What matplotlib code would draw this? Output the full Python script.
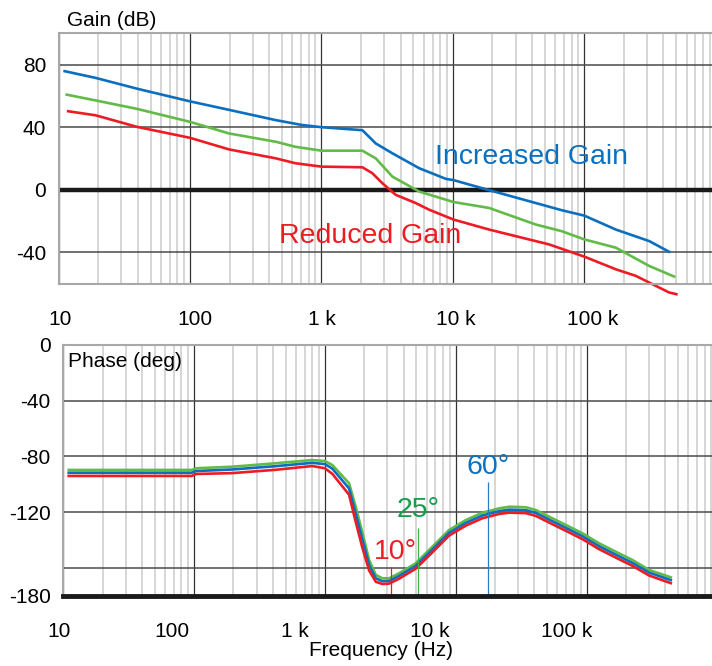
import numpy as np
import matplotlib
matplotlib.use('Agg')
import matplotlib.pyplot as plt
from matplotlib.ticker import FixedLocator, LogLocator, NullFormatter
from matplotlib.transforms import ScaledTranslation

plt.rcParams['font.family'] = ['Liberation Sans', 'DejaVu Sans']
plt.rcParams['axes.unicode_minus'] = False

# ---- gain curves (Hz, dB) ----
inc_freq = [11.1, 19.1, 39.5, 100, 200, 450, 700, 1000, 2047, 2588, 3467, 5535,
            8830, 10090, 18840, 67700, 100000, 173800, 312600, 441600]
inc_gain = [75.8, 71.5, 64.6, 56.5, 51.0, 44.5, 41.5, 40.0, 38.1, 29.6, 23.3, 13.8,
            7.0, 6.2, -0.2, -13.1, -16.5, -25.4, -32.8, -39.6]

mid_freq = [11.5, 19.1, 39.5, 100, 198, 449, 631, 1000, 2047, 2588, 3467, 5535,
            8830, 10090, 18840, 42760, 67700, 100000, 173800, 312600, 482000]
mid_gain = [60.8, 57.1, 51.7, 43.4, 36.0, 30.7, 27.5, 25.0, 25.0, 20.1, 8.4, -1.1,
            -6.3, -7.8, -11.6, -22.2, -26.5, -31.7, -37.0, -48.7, -55.4]

red_freq = [11.8, 19.1, 39.5, 100, 198, 449, 631, 1000, 2047, 2438, 2905, 3670,
            5220, 6590, 10090, 18840, 53950, 100000, 173800, 246600, 441600, 502000]
red_gain = [50.2, 47.6, 40.2, 33.2, 25.8, 20.1, 17.0, 14.8, 14.4, 10.6, 4.2, -3.2,
            -8.5, -12.7, -19.0, -25.4, -34.9, -42.7, -50.8, -55.0, -65.6, -66.7]

# ---- phase curves (Hz, deg) ----
ph_freq = [11, 96, 104, 195, 420, 800, 1000, 1140, 1530, 1720, 1940, 2180, 2450,
           2750, 3100, 3690, 4950, 6640, 8910, 11950, 16000, 21500, 25600, 34300,
           41000, 51800, 69500, 93100, 125000, 167000, 225000, 301000, 441000]
ph_mid = [-89.7, -89.7, -88.5, -87.4, -84.9, -82.6, -83.3, -86.2, -99.3, -116.1,
          -135.2, -154.4, -165.1, -167.5, -167.5, -163.9, -156.7, -144.8, -132.8,
          -125.7, -120.4, -117.3, -116.1, -116.5, -118.5, -123.3, -129.2, -135.2,
          -142.4, -148.4, -154.4, -161.5, -166.8]
ph_inc = [-91.7, -91.7, -90.5, -89.4, -87.0, -84.6, -85.5, -88.8, -103.0, -121.0,
          -140.0, -158.0, -167.5, -169.6, -169.4, -165.8, -158.6, -146.8, -134.8,
          -127.7, -122.4, -119.3, -118.2, -118.6, -120.6, -125.4, -131.3, -137.3,
          -144.5, -150.5, -156.5, -163.4, -168.8]
ph_red = [-94.0, -94.0, -92.6, -92.0, -89.6, -86.9, -88.5, -92.5, -107.5, -127.0,
          -146.0, -162.0, -170.0, -171.6, -171.3, -167.8, -160.6, -148.8, -136.8,
          -129.7, -124.4, -121.3, -120.4, -120.7, -122.7, -127.5, -133.4, -139.4,
          -146.6, -152.6, -158.6, -165.5, -171.0]

# phase margin markers
pm_labels = ['10°', '25°', '60°']
pm_freq = [3206, 5190, 17780]
pm_top = [-159.4, -131.2, -98.2]
pm_text_x = [3450, 5190, 17780]
pm_text_y = [-148.4, -118.5, -87.4]

decades = [10, 100, 1000, 10000, 100000]
decade_labels = ['10', '100', '1 k', '10 k', '100 k']
gain_ticks = [80, 40, 0, -40]
phase_ticks = [0, -40, -80, -120, -160, -180]
phase_ticklabels = ['0', '-40', '-80', '-120', '', '-180']

BLUE = '#0b6fc0'
GREEN = '#62bb47'
RED = '#ed1c24'

W, H = 712, 666
fig = plt.figure(figsize=(W / 100, H / 100), dpi=100)
ax1 = fig.add_axes([58.7 / W, 1 - 283.7 / H, 657 / W, 250.4 / H])
ax2 = fig.add_axes([63.3 / W, 1 - 595.7 / H, 654 / W, 250.7 / H])


def style(ax):
    ax.set_xscale('log')
    ax.set_xlim(10, 1e6)
    ax.xaxis.set_major_locator(FixedLocator(decades))
    ax.set_xticklabels(decade_labels)
    ax.xaxis.set_minor_locator(LogLocator(base=10, subs=np.arange(2, 10), numticks=50))
    ax.xaxis.set_minor_formatter(NullFormatter())
    ax.grid(which='minor', axis='x', color='#d6d6d6', lw=1.4)
    ax.grid(which='major', axis='x', color='#333333', lw=0.9)
    ax.grid(which='major', axis='y', color='#4a4a4a', lw=1.1)
    ax.set_axisbelow(True)
    ax.tick_params(which='both', length=0, labelsize=15)
    ax.tick_params(axis='x', pad=19)
    ax.tick_params(axis='y', pad=9)
    ax.spines['right'].set_visible(False)
    for s in ['left', 'top', 'bottom']:
        ax.spines[s].set_color('#a8a8a8')
        ax.spines[s].set_linewidth(1.5)


def shift_labels(ax, offsets_px):
    for lab, dx in zip(ax.get_xticklabels(), offsets_px):
        lab.set_transform(lab.get_transform()
                          + ScaledTranslation(dx / 100, 0, fig.dpi_scale_trans))


# ---- gain panel ----
style(ax1)
ax1.set_ylim(-60, 100)
ax1.set_yticks(gain_ticks)
ax1.axhline(0, color='#1a1a1a', lw=3.2)
ax1.plot(inc_freq, inc_gain, color=BLUE, lw=1.9, clip_on=False)
ax1.plot(mid_freq, mid_gain, color=GREEN, lw=1.9, clip_on=False)
ax1.plot(red_freq, red_gain, color=RED, lw=1.9, clip_on=False)
ax1.text(7330, 21, 'Increased Gain', color='#0a70c0', fontsize=20.5,
         ha='left', va='center')
ax1.text(475, -29.7, 'Reduced Gain', color=RED, fontsize=20.5,
         ha='left', va='center')
ax1.text(0.0126, 1.053, 'Gain (dB)', transform=ax1.transAxes, fontsize=15,
         ha='left', va='center')

# ---- phase panel ----
style(ax2)
ax2.set_ylim(-180, 0)
ax2.set_yticks(phase_ticks)
ax2.set_yticklabels(phase_ticklabels)
ax2.axhline(-180, color='#1a1a1a', lw=3.5, clip_on=False, zorder=5)
ax2.plot(ph_freq, ph_mid, color=GREEN, lw=1.9)
ax2.plot(ph_freq, ph_inc, color=BLUE, lw=1.9)
ax2.plot(ph_freq, ph_red, color=RED, lw=1.9)

pm_colors = [RED, '#3cb04a', '#2a7cc6']
pm_text_colors = [RED, '#13a04c', '#0a70c0']
for lab, f, top, tx, ty, c, tc in zip(pm_labels, pm_freq, pm_top, pm_text_x,
                                      pm_text_y, pm_colors, pm_text_colors):
    ax2.vlines(f, -180, top, color=c, lw=0.9, zorder=4)
    ax2.text(tx, ty, lab, color=tc, fontsize=20.5, ha='center', va='center')

ax2.text(0.007, 0.933, 'Phase (deg)', transform=ax2.transAxes, fontsize=15,
         ha='left', va='center')
ax2.set_xlabel('Frequency (Hz)', fontsize=15)
ax2.xaxis.set_label_coords(0.486, -0.181)

# the original's tick labels sit a little off their grid lines
shift_labels(ax1, [1, 5, 0, 3, 8])
shift_labels(ax2, [-4, -22, -30, -25.6, -20.3])

fig.savefig('out.png', dpi=100)
